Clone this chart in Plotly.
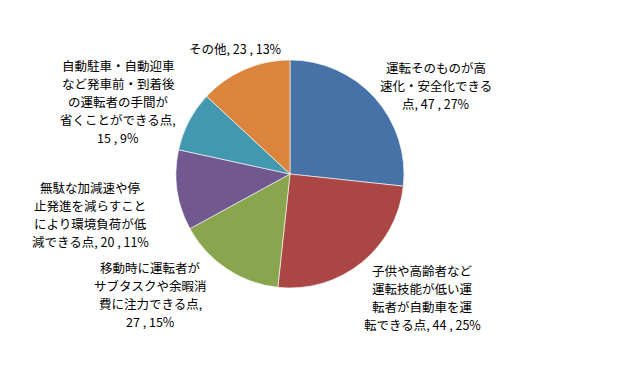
import plotly.graph_objects as go

categories = [
    "運転そのものが高<br>速化・安全化できる<br>点",
    "子供や高齢者など<br>運転技能が低い運<br>転者が自動車を運<br>転できる点",
    "移動時に運転者が<br>サブタスクや余暇消<br>費に注力できる点",
    "無駄な加減速や停<br>止発進を減らすこと<br>により環境負荷が低<br>減できる点",
    "自動駐車・自動迎車<br>など発車前・到着後<br>の運転者の手間が<br>省くことができる点",
    "その他",
]
values = [47, 44, 27, 20, 15, 23]
percent_labels = ["27%", "25%", "15%", "11%", "9%", "13%"]
value_sep = [", ", ", ", ",<br>", ", ", ",<br>", ", "]
colors = ["#4672A8", "#AA4744", "#89A54E", "#71588F", "#4198AF", "#DB843D"]

# label centre positions (pixels in a 618x368 canvas)
label_pos = [(436, 85), (422, 297), (150, 294), (90, 214), (118, 101), (235, 48)]
LINE_H = 18

W, H = 618, 368
fig = go.Figure()
fig.add_trace(go.Pie(
    labels=[c.replace("<br>", "") for c in categories],
    values=values,
    sort=False,
    direction="clockwise",
    rotation=0,
    textinfo="none",
    hoverinfo="label+value+percent",
    marker=dict(colors=colors, line=dict(color="rgba(255,255,255,0.6)", width=1)),
    domain=dict(x=[176 / W, 404 / W], y=[1 - 288 / H, 1 - 60 / H]),
    showlegend=False,
))

for cat, v, p, s, (px, py) in zip(categories, values, percent_labels, value_sep, label_pos):
    lines = f"{cat}{s}{v} , {p}".split("<br>")
    n = len(lines)
    for i, line in enumerate(lines):
        ly = py + (i - (n - 1) / 2) * LINE_H
        fig.add_annotation(
            x=px / W, y=1 - ly / H, xref="paper", yref="paper",
            xanchor="center", yanchor="middle", align="center",
            text=line, showarrow=False, height=16, borderpad=0,
            font=dict(family="Noto Sans CJK JP", size=12.5, color="#000000"),
        )

fig.update_layout(
    width=W, height=H,
    margin=dict(l=0, r=0, t=0, b=0),
    paper_bgcolor="white", plot_bgcolor="white",
)
fig.write_html("out.html")
